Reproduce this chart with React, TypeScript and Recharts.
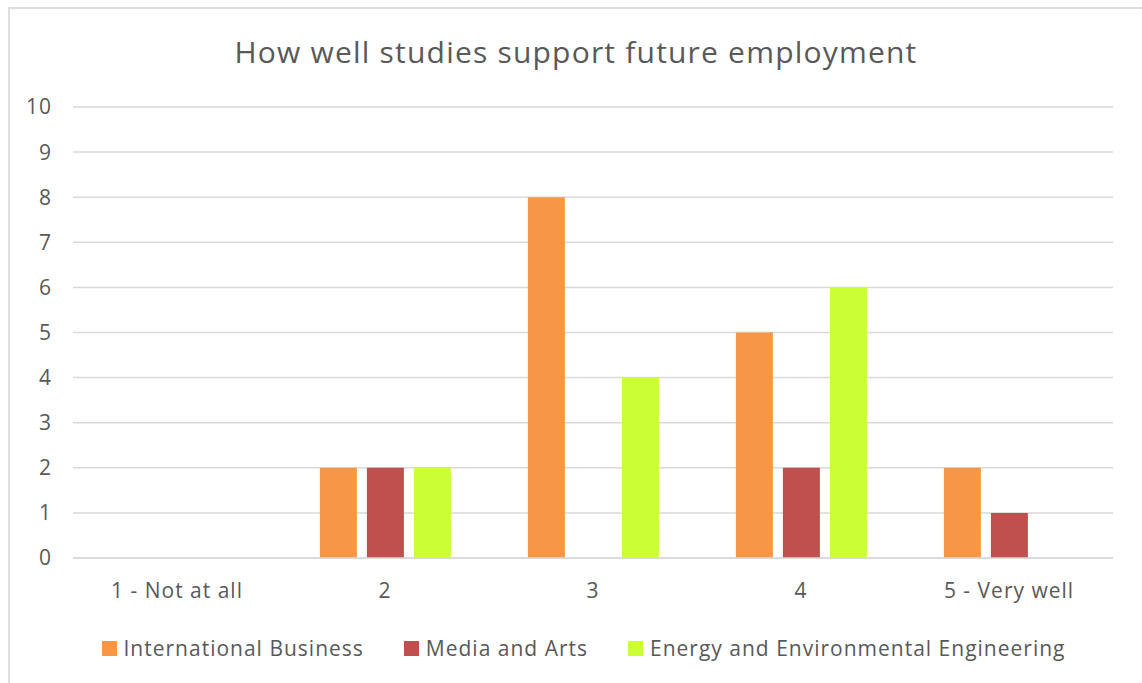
import { BarChart, Bar, XAxis, YAxis, CartesianGrid, Legend } from 'recharts'

const categories = ['1 - Not at all', '2', '3', '4', '5 - Very well']
const internationalBusiness = [0, 2, 8, 5, 2]
const mediaArts = [0, 2, 0, 2, 1]
const energyEnv = [0, 2, 4, 6, 0]
const yTicks = [0, 1, 2, 3, 4, 5, 6, 7, 8, 9, 10]

const series = [
  { key: 'ib', name: 'International Business', color: '#F79646' },
  { key: 'ma', name: 'Media and Arts', color: '#C0504D' },
  { key: 'ee', name: 'Energy and Environmental Engineering', color: '#CCFF33' },
]

const rows = categories.map((c, i) => ({
  cat: c,
  ib: internationalBusiness[i],
  ma: mediaArts[i],
  ee: energyEnv[i],
}))

const FONT = '"Open Sans", "Noto Sans", sans-serif'
const TEXT = '#595959'

function LegendRow() {
  return (
    <div style={{ display: 'flex', justifyContent: 'center', gap: 40, paddingLeft: 54, fontFamily: FONT, fontSize: 21, letterSpacing: 1, color: TEXT, height: 24, alignItems: 'center' }}>
      {series.map(s => (
        <span key={s.key} style={{ display: 'flex', alignItems: 'center', gap: 7 }}>
          <span style={{ width: 15, height: 15, background: s.color, display: 'inline-block' }} />
          {s.name}
        </span>
      ))}
    </div>
  )
}

export default function App() {
  const tickStyle = { fontFamily: FONT, fontSize: 21, fill: TEXT, letterSpacing: 1 }
  return (
    <div style={{ position: 'absolute', left: 0, top: 0, width: 1142, height: 683, background: '#fff', overflow: 'hidden' }}>
      {/* chart frame */}
      <div style={{ position: 'absolute', left: 8, top: 7, width: 1140, height: 700, border: '2px solid #DEDEDE', boxSizing: 'border-box' }} />
      <div style={{ position: 'absolute', left: 0, top: 31, width: 1152, textAlign: 'center', fontFamily: FONT, fontSize: 30, letterSpacing: 1.2, color: TEXT }}>
        How well studies support future employment
      </div>
      <BarChart
        width={1142}
        height={683}
        data={rows}
        margin={{ top: 107, right: 29, left: 0, bottom: 23 }}
        barCategoryGap="18.7%"
        barGap={10}
        style={{ position: 'absolute', left: 0, top: 0 }}
      >
        <CartesianGrid vertical={false} stroke="#D9D9D9" strokeWidth={1.5} />
        <XAxis
          dataKey="cat"
          axisLine={{ stroke: '#D9D9D9', strokeWidth: 1.5 }}
          tickLine={false}
          tickSize={0}
          tickMargin={25}
          height={78}
          tick={tickStyle}
        />
        <YAxis
          domain={[0, 10]}
          ticks={yTicks}
          interval={0}
          axisLine={false}
          tickLine={false}
          tickSize={0}
          tickMargin={21}
          width={73}
          tick={tickStyle}
        />
        <Legend verticalAlign="bottom" content={<LegendRow />} />
        {series.map(s => (
          <Bar key={s.key} dataKey={s.key} name={s.name} fill={s.color} isAnimationActive={false} />
        ))}
      </BarChart>
    </div>
  )
}
